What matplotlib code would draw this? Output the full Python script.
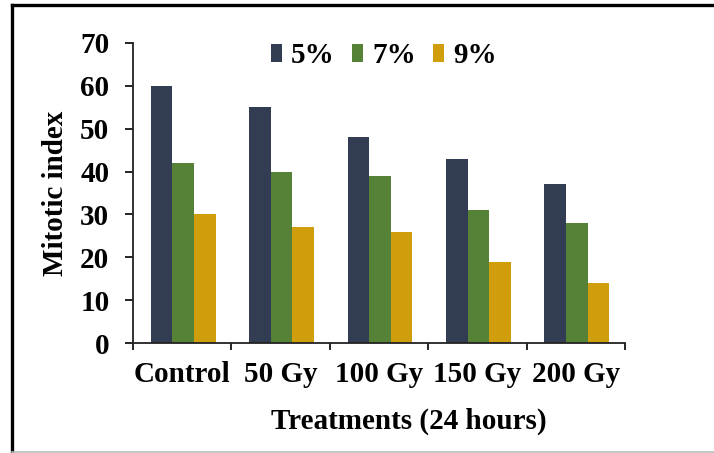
import numpy as np
import matplotlib.pyplot as plt
from matplotlib.lines import Line2D

treatments = ["Control", "50 Gy", "100 Gy", "150 Gy", "200 Gy"]
series_names = ["5%", "7%", "9%"]
vals_5 = [60, 55, 48, 43, 37]
vals_7 = [42, 40, 39, 31, 28]
vals_9 = [30, 27, 26, 19, 14]
colors = ["#323C52", "#558236", "#D09E0C"]

plt.rcParams["font.family"] = "Liberation Serif"
plt.rcParams["font.weight"] = "bold"

fig = plt.figure(figsize=(7.14, 4.53), dpi=100)
ax = fig.add_axes([0.1863, 0.2428, 0.6891, 0.6623])

x = np.arange(len(treatments))
w = 0.22
for i, (vals, name) in enumerate(zip([vals_5, vals_7, vals_9], series_names)):
    ax.bar(x + (i - 1) * w + 0.01, vals, width=w, color=colors[i], label=name)

ax.set_xlim(-0.5, 4.5)
ax.set_ylim(0, 70)
ax.set_yticks(range(0, 71, 10))
ax.set_xticks(x)
ax.set_xticklabels(treatments)
ax.set_xticks(np.arange(-0.5, 5, 1), minor=True)
ax.tick_params(axis="x", which="major", length=0, pad=13, labelsize=21)
ax.tick_params(axis="x", which="minor", length=5, width=1.2, direction="out")
ax.tick_params(axis="y", length=6, width=1.2, pad=11, labelsize=21)
for s in ["top", "right"]:
    ax.spines[s].set_visible(False)
for s in ["left", "bottom"]:
    ax.spines[s].set_linewidth(1.3)
    ax.spines[s].set_color("#222222")

ax.set_ylabel("Mitotic index", fontsize=21, fontweight="bold", labelpad=8)
ax.set_xlabel("Treatments (24 hours)", fontsize=21, fontweight="bold")
ax.xaxis.set_label_coords(0.56, -0.215)

leg = ax.legend(loc="center", bbox_to_anchor=(0.51, 0.957), ncol=3, frameon=False,
                fontsize=21, handlelength=0.38, handleheight=0.55, handletextpad=0.3,
                columnspacing=0.6, borderaxespad=0)

# page border of the original figure
fig.add_artist(Line2D([12 / 714, 1], [1 - 5 / 453, 1 - 5 / 453], color="black", lw=2.4,
                      transform=fig.transFigure))
fig.add_artist(Line2D([12 / 714, 12 / 714], [0, 1 - 5 / 453], color="black", lw=2.4,
                      transform=fig.transFigure))
fig.add_artist(Line2D([12 / 714, 1], [1.5 / 453, 1.5 / 453], color="#BBBBBB", lw=1.2,
                      transform=fig.transFigure))

fig.savefig("out.png", dpi=100)
